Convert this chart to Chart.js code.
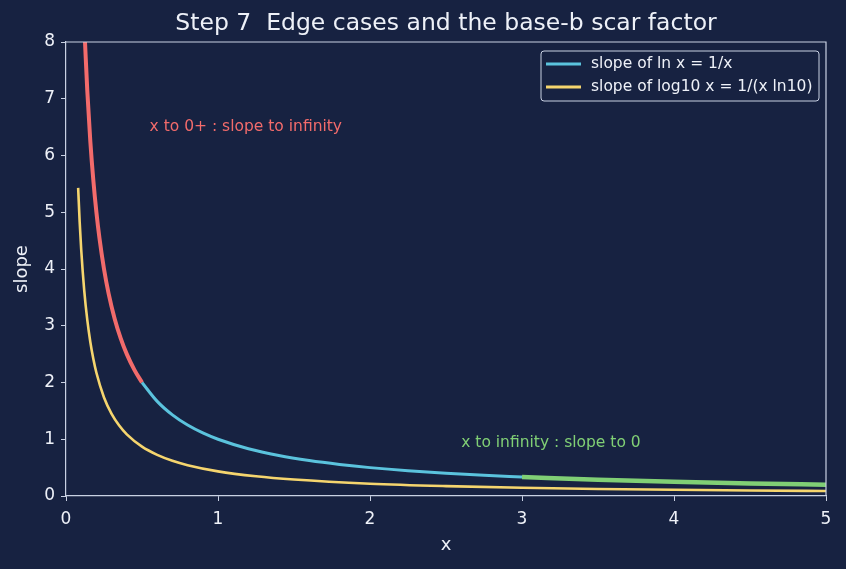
<!DOCTYPE html>
<html>
<head>
<meta charset="utf-8">
<script src="https://cdn.jsdelivr.net/npm/chart.js@4"></script>
<style>
  html, body { margin: 0; padding: 0; background: #172241; }
  canvas { display: block; }
</style>
</head>
<body>
<canvas id="chart" width="846" height="569"></canvas>
<script>
// values
const redX = [0.125, 0.14, 0.16, 0.18, 0.2, 0.22, 0.25, 0.28, 0.32, 0.36, 0.4, 0.45, 0.5]
const redY = [8, 7.143, 6.25, 5.556, 5, 4.545, 4, 3.571, 3.125, 2.778, 2.5, 2.222, 2]

const blueX = [0.5, 0.6, 0.7, 0.8, 0.9, 1.0, 1.2, 1.4, 1.6, 1.8, 2.0, 2.25, 2.5, 2.75, 3.0]
const blueY = [2, 1.667, 1.429, 1.25, 1.111, 1, 0.833, 0.714, 0.625, 0.556, 0.5, 0.444, 0.4, 0.364, 0.333]

const greenX = [3, 3.5, 4, 4.5, 5]
const greenY = [0.333, 0.286, 0.25, 0.222, 0.2]

const yellowX = [0.08, 0.09, 0.1, 0.12, 0.14, 0.16, 0.18, 0.2, 0.25, 0.3, 0.35, 0.4, 0.5, 0.6, 0.7, 0.8, 1.0, 1.25, 1.5, 2, 2.5, 3, 3.5, 4, 4.5, 5]
const yellowY = [5.429, 4.825, 4.343, 3.619, 3.102, 2.714, 2.413, 2.171, 1.737, 1.448, 1.241, 1.086, 0.869, 0.724, 0.62, 0.543, 0.434, 0.347, 0.29, 0.217, 0.174, 0.145, 0.124, 0.109, 0.097, 0.087]

const xTicks = [0, 1, 2, 3, 4, 5]
const yTicks = [0, 1, 2, 3, 4, 5, 6, 7, 8]

const legendLabels = ["slope of ln x = 1/x", "slope of log10 x = 1/(x ln10)"]
const notes = [
  { text: "x to 0+ : slope to infinity", x: 0.55, y: 6.5, color: "#f26b6b" },
  { text: "x to infinity : slope to 0", x: 2.6, y: 0.93, color: "#80cf75" },
]
const titleText = "Step 7  Edge cases and the base-b scar factor"

const BG = "#172241"
const FG = "#eef1f8"
const SPINE = "#c9d1e3"
const FONT = "'DejaVu Sans', sans-serif"

const pts = (xs, ys) => xs.map((x, i) => ({ x: x, y: ys[i] }))

// background, box, title, legend, notes
const decor = {
  id: "decor",
  beforeDraw(chart) {
    const ctx = chart.ctx
    ctx.save()
    ctx.fillStyle = BG
    ctx.fillRect(0, 0, chart.width, chart.height)
    ctx.restore()
  },
  afterDraw(chart) {
    const ctx = chart.ctx
    const a = chart.chartArea
    const xs = chart.scales.x
    const ys = chart.scales.y
    ctx.save()
    // top / right spines
    ctx.strokeStyle = SPINE
    ctx.lineWidth = 1.2
    ctx.beginPath()
    ctx.moveTo(a.left, a.top)
    ctx.lineTo(a.right, a.top)
    ctx.lineTo(a.right, a.bottom)
    ctx.stroke()

    // title
    ctx.fillStyle = FG
    ctx.font = "23.5px " + FONT
    ctx.textAlign = "center"
    ctx.textBaseline = "middle"
    ctx.fillText(titleText, (a.left + a.right) / 2, 24)

    // notes
    ctx.font = "15.5px " + FONT
    ctx.textAlign = "left"
    notes.forEach((n) => {
      ctx.fillStyle = n.color
      ctx.fillText(n.text, xs.getPixelForValue(n.x), ys.getPixelForValue(n.y))
    })

    // legend
    const bx = a.right - 285, by = a.top + 9, bw = 278, bh = 50
    ctx.fillStyle = BG
    ctx.strokeStyle = SPINE
    ctx.lineWidth = 1
    ctx.beginPath()
    ctx.roundRect(bx, by, bw, bh, 3)
    ctx.fill()
    ctx.stroke()
    const cols = ["#5bc3dd", "#f5d56e"]
    ctx.font = "15.5px " + FONT
    legendLabels.forEach((t, i) => {
      const ly = by + 13 + i * 23
      ctx.strokeStyle = cols[i]
      ctx.lineWidth = 3
      ctx.beginPath()
      ctx.moveTo(bx + 5, ly)
      ctx.lineTo(bx + 40, ly)
      ctx.stroke()
      ctx.fillStyle = FG
      ctx.fillText(t, bx + 50, ly)
    })
    ctx.restore()
  },
}

const lineDs = (data, color, width) => ({
  data: data,
  borderColor: color,
  borderWidth: width,
  pointRadius: 0,
  fill: false,
  cubicInterpolationMode: "monotone",
  borderCapStyle: "butt",
})

new Chart(document.getElementById("chart"), {
  type: "line",
  data: {
    datasets: [
      lineDs(pts(yellowX, yellowY), "#f5d56e", 2.6),
      lineDs(pts(blueX, blueY), "#5bc3dd", 3),
      lineDs(pts(redX, redY), "#f26b6b", 4),
      lineDs(pts(greenX, greenY), "#80cf75", 4.5),
    ],
  },
  options: {
    responsive: false,
    animation: false,
    layout: { padding: { top: 42, right: 20, left: 0, bottom: 9 } },
    plugins: {
      legend: { display: false },
      title: { display: false },
      tooltip: { enabled: false },
    },
    scales: {
      x: {
        type: "linear",
        min: 0,
        max: 5,
        afterBuildTicks: (s) => { s.ticks = xTicks.map((v) => ({ value: v })) },
        afterFit: (s) => { s.height = 64 },
        grid: { drawOnChartArea: false, drawTicks: true, tickLength: 5, color: SPINE },
        border: { color: SPINE, width: 1.2 },
        ticks: { color: FG, font: { family: FONT, size: 17 }, padding: 8, maxRotation: 0 },
        title: { display: true, text: "x", color: FG, font: { family: FONT, size: 18 }, padding: { top: 0 } },
      },
      y: {
        type: "linear",
        min: 0,
        max: 8,
        afterBuildTicks: (s) => { s.ticks = yTicks.map((v) => ({ value: v })) },
        afterFit: (s) => { s.width = 66 },
        grid: { drawOnChartArea: false, drawTicks: true, tickLength: 5, color: SPINE },
        border: { color: SPINE, width: 1.2 },
        ticks: { color: FG, font: { family: FONT, size: 17 }, padding: 6 },
        title: { display: true, text: "slope", color: FG, font: { family: FONT, size: 18 }, padding: { bottom: 0, top: 12 } },
      },
    },
  },
  plugins: [decor],
})
</script>
</body>
</html>
